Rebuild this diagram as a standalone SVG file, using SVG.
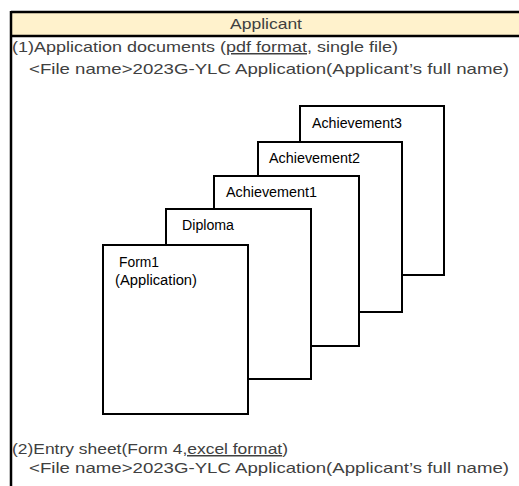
<svg xmlns="http://www.w3.org/2000/svg" width="519" height="486" viewBox="0 0 519 486">
<style>
.frame{stroke:#000;stroke-width:2.5;fill:none}
.doc{fill:#fff;stroke:#000;stroke-width:2}
.t{font-family:"Liberation Sans",Arial,sans-serif;font-size:15px;fill:#404040}
.lbl{font-family:"Liberation Sans",Arial,sans-serif;font-size:14px;fill:#000}
.u{text-decoration:underline}
</style>
<rect width="519" height="486" fill="#fff"/>
<g id="header">
<rect x="11" y="12" width="510" height="24" fill="#FFF2CC"/>
<text class="t" x="230" y="29" textLength="72" lengthAdjust="spacingAndGlyphs">Applicant</text>
</g>
<g id="frame">
<line class="frame" x1="11" y1="12" x2="521" y2="12"/>
<line class="frame" x1="11" y1="36" x2="521" y2="36"/>
<line class="frame" x1="11" y1="11" x2="11" y2="490"/>
</g>
<g id="section1">
<text class="t" x="12" y="52" textLength="386" lengthAdjust="spacingAndGlyphs">(1)Application documents (<tspan class="u">pdf format</tspan>, single file)</text>
<text class="t" x="29" y="74" textLength="480" lengthAdjust="spacingAndGlyphs">&lt;File name&gt;2023G-YLC Application(Applicant’s full name)</text>
</g>
<g id="achievement3">
<rect class="doc" x="300" y="106" width="144" height="169"/>
<text class="lbl" x="312" y="128" textLength="90" lengthAdjust="spacingAndGlyphs">Achievement3</text>
</g>
<g id="achievement2">
<rect class="doc" x="258" y="142" width="144" height="170"/>
<text class="lbl" x="269" y="163" textLength="91" lengthAdjust="spacingAndGlyphs">Achievement2</text>
</g>
<g id="achievement1">
<rect class="doc" x="214" y="176" width="145" height="170"/>
<text class="lbl" x="226" y="197" textLength="91" lengthAdjust="spacingAndGlyphs">Achievement1</text>
</g>
<g id="diploma">
<rect class="doc" x="166" y="209" width="145" height="170"/>
<text class="lbl" x="182" y="230" textLength="52" lengthAdjust="spacingAndGlyphs">Diploma</text>
</g>
<g id="form1">
<rect class="doc" x="103" y="245" width="145" height="169"/>
<text class="lbl" x="119" y="267" textLength="40" lengthAdjust="spacingAndGlyphs">Form1</text>
<text class="lbl" x="115" y="285" textLength="82" lengthAdjust="spacingAndGlyphs">(Application)</text>
</g>
<g id="section2">
<text class="t" x="12" y="454" textLength="276" lengthAdjust="spacingAndGlyphs">(2)Entry sheet(Form 4<tspan class="u">,excel format</tspan>)</text>
<text class="t" x="29" y="473" textLength="480" lengthAdjust="spacingAndGlyphs">&lt;File name&gt;2023G-YLC Application(Applicant’s full name)</text>
</g>
</svg>
